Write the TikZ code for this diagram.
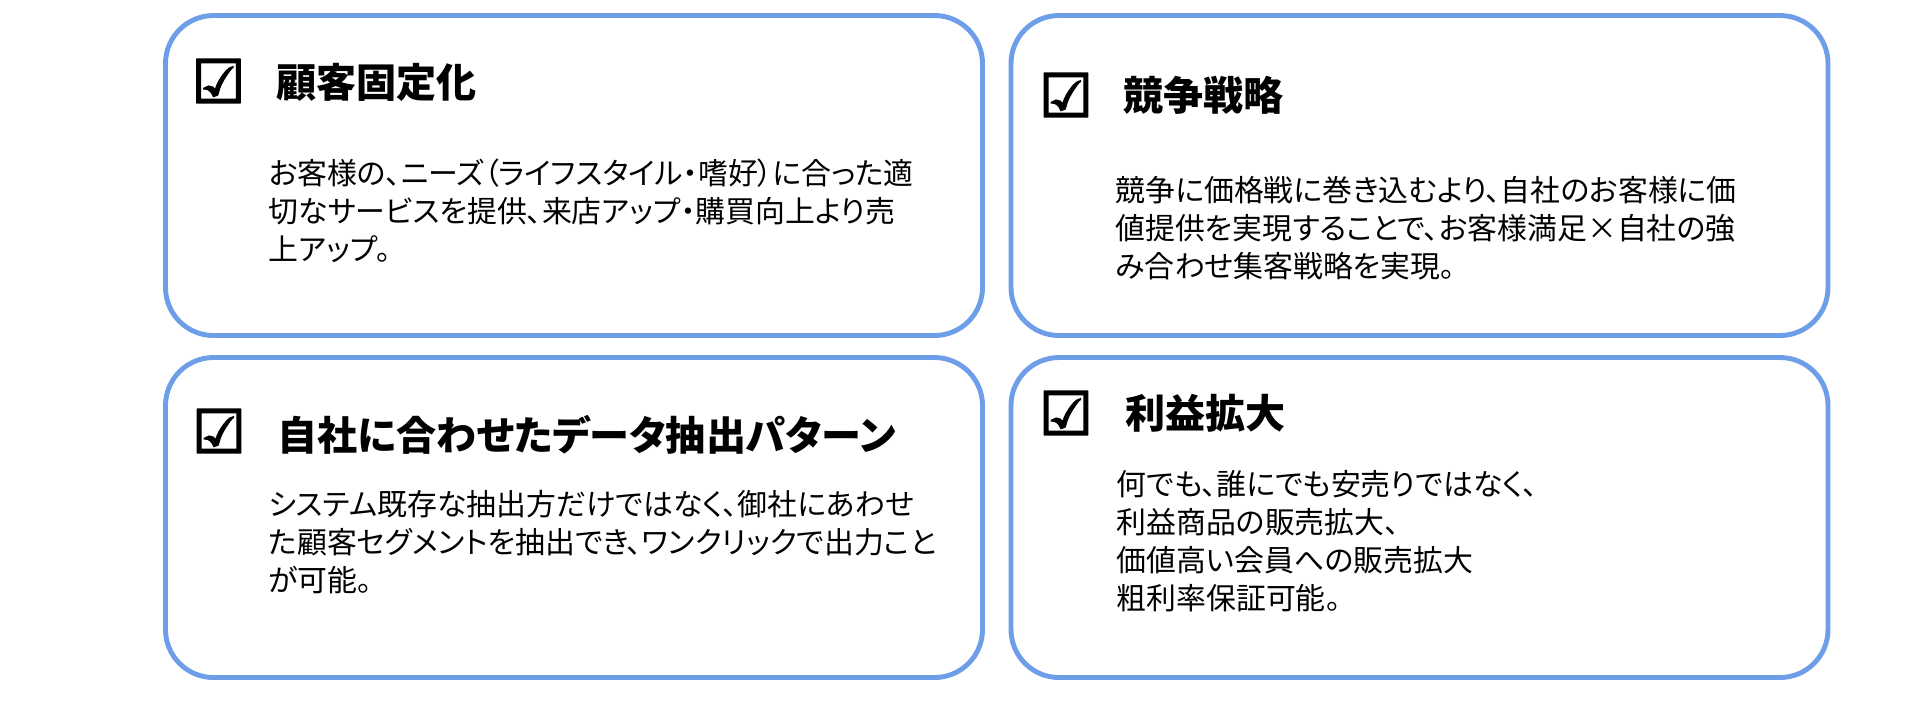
\documentclass[tikz,border=0pt]{standalone}
\usepackage{fontspec}
\setmainfont{Noto Sans CJK JP}[RawFeature=+palt]
\newfontfamily\tickfont{DejaVu Sans}[FakeBold=3]
\usepackage{tikz}
\usetikzlibrary{positioning}
\definecolor{cardblue}{RGB}{110,158,232}
\tikzstyle{card}=[draw=cardblue,line width=1.4pt,rounded corners=0.48cm,minimum width=8.17cm,minimum height=3.2cm,inner sep=0pt]
\tikzstyle{tick}=[font=\tickfont\bfseries\fontsize{17}{17}\selectfont,inner sep=0pt]
\tikzstyle{heading}=[font=\bfseries\fontsize{11.4}{13}\selectfont,anchor=west,inner sep=0pt]
\tikzstyle{body}=[font=\fontsize{8.5}{10.8}\selectfont,anchor=north west,align=left,inner sep=0pt]

\begin{document}
\begin{tikzpicture}[x=1cm,y=-1cm]

   \useasboundingbox (0,0) rectangle (19.2,7);

    \foreach \pos/\name in {{(5.74,1.755)/fix}, {(14.195,1.755)/comp}, {(5.74,5.175)/data}, {(14.195,5.175)/profit}}
        \node[card] (\name) at \pos {};

    \foreach \pos/\name in {{(2.185,0.81)/fixtick}, {(10.66,0.95)/comptick}, {(2.19,4.31)/datatick}, {(10.66,4.13)/profittick}}
        \node[tick] (\name) at \pos {☑};

   \node[heading] (fixtitle) at (2.76,0.82) {顧客固定化};
   \node[body] (fixtext) at (2.68,1.58) {\fontsize{8.5}{10.2}\selectfont お客様の、ニーズ（ライフスタイル・嗜好）に合った適\\切なサービスを提供、来店アップ・購買向上より売\\上アップ。};

   \node[heading] (comptitle) at (11.23,0.95) {競争戦略};
   \node[body] (comptext) at (11.15,1.76) {競争に価格戦に巻き込むより、自社のお客様に価\\値提供を実現することで、お客様満足×自社の強\\み合わせ集客戦略を実現。};

   \node[heading] (datatitle) at (2.77,4.35) {自社に合わせたデータ抽出パターン};
   \node[body] (datatext) at (2.68,4.90) {システム既存な抽出方だけではなく、御社にあわせ\\た顧客セグメントを抽出でき、ワンクリックで出力こと\\が可能。};

   \node[heading] (profittitle) at (11.25,4.13) {利益拡大};
   \node[body] (profittext) at (11.16,4.70) {何でも、誰にでも安売りではなく、\\利益商品の販売拡大、\\価値高い会員への販売拡大\\粗利率保証可能。};

\end{tikzpicture}
\end{document}
